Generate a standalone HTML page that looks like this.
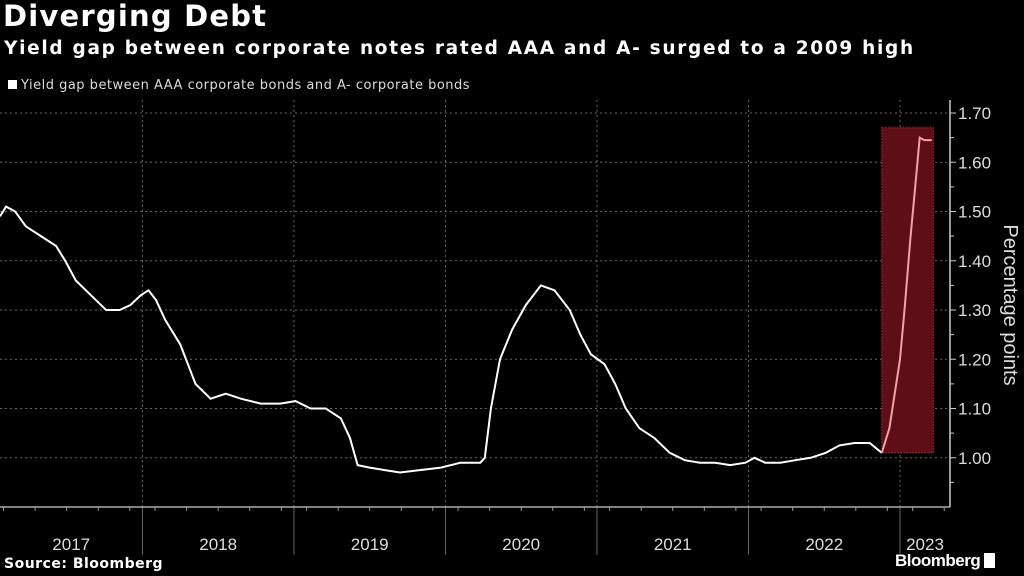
<!DOCTYPE html>
<html><head><meta charset="utf-8"><style>
body{margin:0;background:#000;width:1024px;height:576px;overflow:hidden;font-family:"Liberation Sans",sans-serif;color:#fff}
.t{position:absolute;white-space:nowrap}
</style></head><body>
<div class="t" style="left:3px;top:-1px;font-size:29px;font-weight:bold;letter-spacing:1.2px;font-family:'DejaVu Sans',sans-serif">Diverging Debt</div>
<div class="t" style="left:4px;top:38px;font-size:18.5px;font-weight:bold;letter-spacing:1.7px;font-family:'DejaVu Sans',sans-serif">Yield gap between corporate notes rated AAA and A- surged to a 2009 high</div>
<div class="t" style="left:8px;top:78px;font-size:13px;color:#ddd;letter-spacing:0.5px;font-family:'DejaVu Sans',sans-serif"><span style="display:inline-block;width:9px;height:9px;background:#fff;margin-right:4px"></span>Yield gap between AAA corporate bonds and A- corporate bonds</div>
<div class="t" style="left:4px;top:556px;font-size:14px;font-weight:bold;letter-spacing:0.5px;font-family:'DejaVu Sans',sans-serif">Source: Bloomberg</div>
<div class="t" style="left:895px;top:551px;font-size:17px;font-weight:bold;letter-spacing:-0.5px">Bloomberg <span style="display:inline-block;width:11px;height:15px;background:#fff;vertical-align:-2px"></span></div>
<svg id="c" width="1024" height="576" style="position:absolute;left:0;top:0"></svg>
<script>
const dates=[2017.06,2017.10,2017.16,2017.23,2017.33,2017.43,2017.49,2017.56,2017.66,2017.76,2017.85,2017.92,2017.99,2018.04,2018.09,2018.15,2018.25,2018.35,2018.45,2018.55,2018.65,2018.78,2018.91,2019.01,2019.11,2019.21,2019.31,2019.37,2019.42,2019.50,2019.60,2019.70,2019.83,2019.97,2020.10,2020.16,2020.23,2020.26,2020.30,2020.36,2020.44,2020.53,2020.63,2020.72,2020.82,2020.89,2020.96,2021.05,2021.12,2021.19,2021.28,2021.38,2021.48,2021.58,2021.68,2021.78,2021.88,2021.98,2022.04,2022.11,2022.21,2022.31,2022.41,2022.51,2022.60,2022.70,2022.80,2022.88,2022.93,2023.00,2023.03,2023.07,2023.10,2023.13,2023.16,2023.21];
const values=[1.49,1.51,1.50,1.47,1.45,1.43,1.40,1.36,1.33,1.30,1.30,1.31,1.33,1.34,1.32,1.28,1.23,1.15,1.12,1.13,1.12,1.11,1.11,1.115,1.10,1.10,1.08,1.04,0.985,0.98,0.975,0.97,0.975,0.98,0.99,0.99,0.99,1.00,1.10,1.20,1.26,1.31,1.35,1.34,1.30,1.25,1.21,1.19,1.15,1.10,1.06,1.04,1.01,0.995,0.99,0.99,0.985,0.99,1.00,0.99,0.99,0.995,1.00,1.01,1.025,1.03,1.03,1.01,1.06,1.20,1.30,1.45,1.55,1.65,1.645,1.645];
const yTicks=[1.00,1.10,1.20,1.30,1.40,1.50,1.60,1.70];
const yearLabels=["2017","2018","2019","2020","2021","2022","2023"];
const yearStarts=[2017,2018,2019,2020,2021,2022,2023];
const highlight=[2022.88,2023.22,1.01,1.67];
const X0=2017.06,X1=2023.33,L=0,R=950,T=100,B=507,Y0=0.9,Y1=1.7264;
const sx=t=>L+(t-X0)/(X1-X0)*(R-L);
const sy=v=>B-(v-Y0)/(Y1-Y0)*(B-T);
const svg=document.getElementById('c');const NS="http://www.w3.org/2000/svg";
function mk(tag,a,p){const e=document.createElementNS(NS,tag);for(const k in a)e.setAttribute(k,a[k]);(p||svg).appendChild(e);return e;}
yTicks.forEach(v=>{
const g=mk('line',{x1:L,x2:R,y1:sy(v),y2:sy(v),stroke:'#666','stroke-dasharray':'2,3','stroke-width':1});


const tk=mk('line',{x1:R,x2:R+6,y1:sy(v),y2:sy(v),stroke:'#ccc'});


const tx=mk('text',{x:R+8,y:sy(v)+6,fill:'#ddd','font-size':17,'font-family':'Liberation Sans, sans-serif'});tx.textContent=v.toFixed(2);


const m=mk('line',{x1:R,x2:R+4,y1:sy(v-0.05),y2:sy(v-0.05),stroke:'#ccc'});


});
yearStarts.forEach((y,i)=>{
if(y>X0){const d=mk('line',{x1:sx(y),x2:sx(y),y1:T,y2:B,stroke:'#666','stroke-dasharray':'2,3'});


const s=mk('line',{x1:sx(y),x2:sx(y),y1:B,y2:555,stroke:'#666'});

}
const a=Math.max(y,X0),b=Math.min(y+1,X1);
const tx=mk('text',{x:(sx(a)+sx(b))/2,y:550,fill:'#ddd','font-size':17,'text-anchor':'middle','font-family':'Liberation Sans, sans-serif'});tx.textContent=yearLabels[i];


for(let q=1;q<12;q+=2.5){const t=y+q/12;if(t>X0&&t<X1){const m=mk('line',{x1:sx(t),x2:sx(t),y1:B,y2:B+4,stroke:'#999'});

}}
});
const ax=mk('line',{x1:L,x2:R,y1:B,y2:B,stroke:'#aaa','stroke-width':1.5});


const ay=mk('line',{x1:R,x2:R,y1:T,y2:B,stroke:'#ccc','stroke-width':1.5});


const hb=mk('rect',{x:sx(highlight[0]),y:sy(highlight[3]),width:sx(highlight[1])-sx(highlight[0]),height:sy(highlight[2])-sy(highlight[3]),fill:'#5e0e17',stroke:'#d0283c','stroke-dasharray':'1.5,1.5'});


const pts=dates.map((d,i)=>sx(d).toFixed(1)+','+sy(values[i]).toFixed(1));
const n=dates.findIndex(d=>d>=highlight[0]);
const l1=mk('polyline',{points:pts.slice(0,n+1).join(' '),fill:'none',stroke:'#fff','stroke-width':2});


const l2=mk('polyline',{points:pts.slice(n).join(' '),fill:'none',stroke:'#f4a0a8','stroke-width':2});


const yl=mk('text',{x:0,y:0,fill:'#ddd','font-size':20,'font-family':'Liberation Sans, sans-serif','text-anchor':'middle',transform:'translate(1004,305) rotate(90)'});yl.textContent='Percentage points';


</script>
</body></html>
